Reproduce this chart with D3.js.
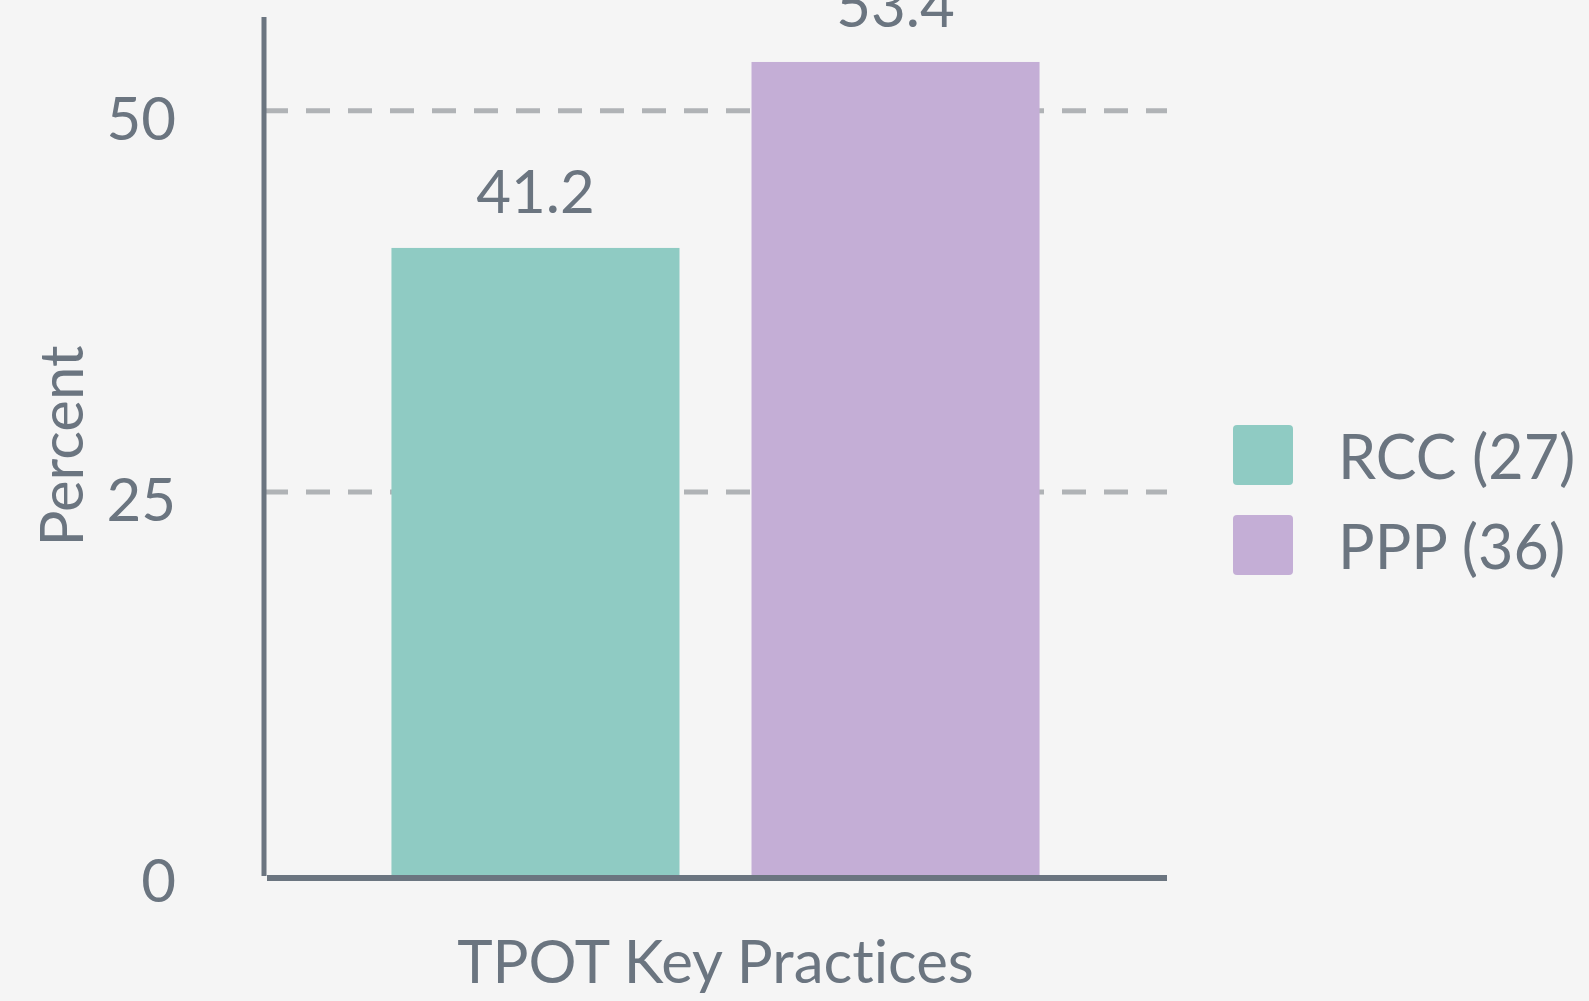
<!DOCTYPE html>
<html>
<head>
<meta charset="utf-8">
<script src="https://cdn.jsdelivr.net/npm/d3@7"></script>
<style>
  html, body { margin: 0; padding: 0; background: #f5f5f5; }
  svg { display: block; font-family: Lato, "Open Sans", sans-serif; font-variant-ligatures: none; }
</style>
</head>
<body>
<div id="chart"></div>
<script>
const categories = ["TPOT Key Practices"];
const seriesNames = ["RCC (27)", "PPP (36)"];
const seriesValues = [41.2, 53.4];
const seriesColors = ["#8fcbc3", "#c4aed6"];
const yTicks = [0, 25, 50];

const width = 1589;
const height = 1001;
const textColor = "#6b7580";

const svg = d3.select("#chart")
  .append("svg")
  .attr("width", width)
  .attr("height", height)
  .style("background", "#f5f5f5");

const plotLeft = 264, plotRight = 1167, plotBottom = 876, plotTop = 17;

const y = d3.scaleLinear().domain([0, 56.35]).range([plotBottom, plotTop]);

const x0 = d3.scaleBand().domain(categories).range([plotLeft, plotRight]);
const x1 = d3.scaleBand()
  .domain(seriesNames)
  .range([x0(categories[0]), x0(categories[0]) + x0.bandwidth()])
  .paddingInner(0.2)
  .paddingOuter(0.354);

// gridlines
svg.append("g")
  .selectAll("line")
  .data(yTicks.filter(d => d > 0))
  .join("line")
  .attr("x1", plotLeft)
  .attr("x2", plotRight)
  .attr("y1", d => y(d) - 3)
  .attr("y2", d => y(d) - 3)
  .attr("stroke", "#b0b3b6")
  .attr("stroke-width", 5)
  .attr("stroke-dasharray", "24 18");

// bars
const data = seriesNames.map((name, i) => ({ name, value: seriesValues[i], color: seriesColors[i] }));

svg.append("g")
  .selectAll("rect")
  .data(data)
  .join("rect")
  .attr("x", d => x1(d.name))
  .attr("width", x1.bandwidth())
  .attr("y", d => y(d.value))
  .attr("height", d => y(0) - y(d.value))
  .attr("fill", d => d.color);

// value labels
svg.append("g")
  .selectAll("text")
  .data(data)
  .join("text")
  .attr("x", d => x1(d.name) + x1.bandwidth() / 2)
  .attr("y", d => y(d.value) - 35)
  .attr("text-anchor", "middle")
  .attr("fill", textColor)
  .style("font-size", "60px")
  .text(d => d.value.toFixed(1));

// axes lines
svg.append("line")
  .attr("x1", plotLeft).attr("x2", plotLeft)
  .attr("y1", plotTop).attr("y2", plotBottom)
  .attr("stroke", textColor)
  .attr("stroke-width", 5);

svg.append("line")
  .attr("x1", plotLeft + 3).attr("x2", plotRight)
  .attr("y1", plotBottom + 2).attr("y2", plotBottom + 2)
  .attr("stroke", textColor)
  .attr("stroke-width", 6);

// y tick labels
svg.append("g")
  .selectAll("text")
  .data(yTicks)
  .join("text")
  .attr("x", 176)
  .attr("y", d => y(d) + 26)
  .attr("text-anchor", "end")
  .attr("fill", textColor)
  .style("font-size", "60px")
  .text(d => d);

// axis titles
svg.append("text")
  .attr("x", (plotLeft + plotRight) / 2)
  .attr("y", 983)
  .attr("text-anchor", "middle")
  .attr("fill", textColor)
  .style("font-size", "60px")
  .text(categories[0]);

svg.append("text")
  .attr("transform", "translate(83, 446) rotate(-90)")
  .attr("text-anchor", "middle")
  .attr("fill", textColor)
  .style("font-size", "60px")
  .text("Percent");

// legend
const legend = svg.append("g")
  .selectAll("g")
  .data(data)
  .join("g")
  .attr("transform", (d, i) => `translate(1233, ${425 + i * 90})`);

legend.append("rect")
  .attr("width", 60)
  .attr("height", 60)
  .attr("rx", 4)
  .attr("fill", d => d.color);

legend.append("text")
  .attr("x", 105)
  .attr("y", 54)
  .attr("fill", textColor)
  .style("font-size", "61px")
  .text(d => d.name);
</script>
</body>
</html>
